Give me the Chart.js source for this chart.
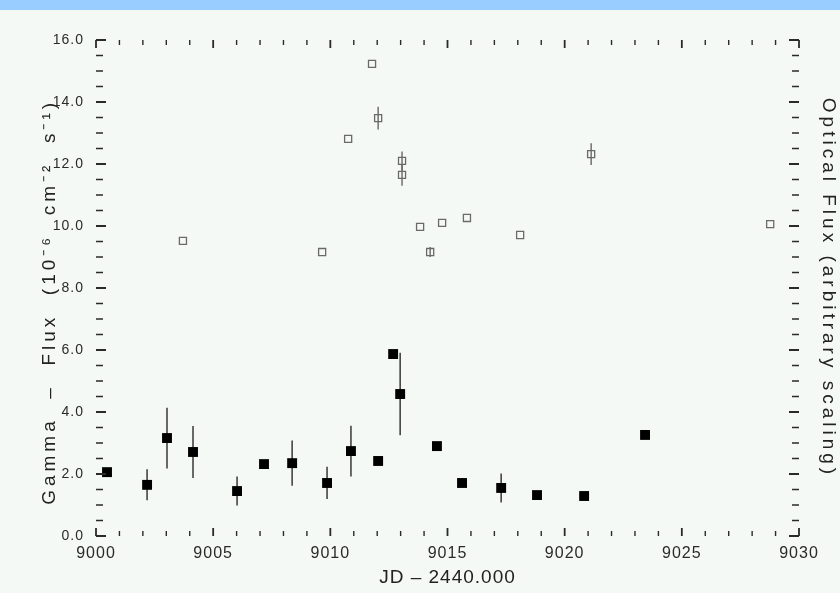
<!DOCTYPE html>
<html>
<head>
<meta charset="utf-8">
<script src="https://cdn.jsdelivr.net/npm/chart.js@4.4.1/dist/chart.umd.min.js"></script>
<style>
  html, body { margin: 0; padding: 0; background: #f5f9f6; }
  #band { position: absolute; left: 0; top: 0; width: 840px; height: 10px; background: #99ccff; }
  #wrap { position: absolute; left: 0; top: 0; width: 840px; height: 593px; }
</style>
</head>
<body>
<div id="band"></div>
<div id="wrap"><canvas id="c" width="840" height="593"></canvas></div>
<script>
// Gamma-ray flux (filled squares)
const gammaX   = [9000.47, 9002.18, 9003.03, 9004.14, 9006.02, 9007.17, 9008.37, 9009.86, 9010.88, 9012.04, 9012.68, 9012.98, 9014.55, 9015.62, 9017.29, 9018.82, 9020.83, 9023.43];
const gammaY   = [2.06, 1.65, 3.16, 2.71, 1.45, 2.32, 2.35, 1.71, 2.74, 2.42, 5.87, 4.58, 2.90, 1.71, 1.55, 1.32, 1.29, 3.26];
const gammaErr = [0, 0.50, 0.98, 0.84, 0.47, 0, 0.73, 0.52, 0.82, 0, 0, 1.33, 0, 0, 0.47, 0, 0, 0];

// Optical flux (open squares, arbitrary scaling)
const opticalX   = [9003.71, 9009.65, 9010.76, 9011.78, 9012.04, 9013.06, 9013.06, 9013.83, 9014.26, 9014.77, 9015.83, 9018.10, 9021.13, 9028.77];
const opticalY   = [9.52, 9.16, 12.81, 15.23, 13.48, 12.10, 11.65, 9.97, 9.16, 10.10, 10.26, 9.71, 12.32, 10.06];
const opticalErr = [0, 0, 0, 0, 0.37, 0.30, 0.35, 0, 0.16, 0, 0, 0, 0.35, 0];

// Axis settings
const xMin = 9000, xMax = 9030, xMajor = 5, xMinor = 1;
const yMin = 0, yMax = 16, yMajor = 2, yMinor = 0.5;

const FONT = "'Liberation Sans', Arial, sans-serif";

function zip(xs, ys) { return xs.map((x, i) => ({ x: x, y: ys[i] })); }

// letter spacing: wide for the vertical axis titles, small for tick labels / x title
const spacingPlugin = {
  id: 'spacing',
  beforeDraw(chart) { chart.ctx.letterSpacing = '4px'; },
  afterDatasetsDraw(chart) { chart.ctx.letterSpacing = '1px'; },
  afterDraw(chart) { chart.ctx.letterSpacing = '0px'; }
};

const errorBarPlugin = {
  id: 'errorBars',
  beforeDatasetsDraw(chart) {
    const ctx = chart.ctx;
    chart.data.datasets.forEach((ds, di) => {
      const meta = chart.getDatasetMeta(di);
      const yScale = chart.scales[meta.yAxisID];
      ctx.save();
      ctx.strokeStyle = ds.errColor;
      ctx.lineWidth = ds.errWidth;
      meta.data.forEach((pt, i) => {
        const e = ds.errors[i];
        if (!e) return;
        const v = ds.data[i].y;
        const yTop = yScale.getPixelForValue(v + e);
        const yBot = yScale.getPixelForValue(v - e);
        ctx.beginPath();
        ctx.moveTo(pt.x, yTop);
        ctx.lineTo(pt.x, yBot);
        ctx.stroke();
      });
      ctx.restore();
    });
  }
};

const tickPlugin = {
  id: 'inTicks',
  afterDraw(chart) {
    const ctx = chart.ctx;
    const a = chart.chartArea;
    const xs = chart.scales.x, ys = chart.scales.y;
    ctx.save();
    ctx.strokeStyle = '#2a2a2a';
    // x ticks: top & bottom, inward
    for (let v = xMin; v <= xMax + 1e-9; v += xMinor) {
      const px = xs.getPixelForValue(v);
      const major = Math.abs(v / xMajor - Math.round(v / xMajor)) < 1e-6;
      const len = major ? 8 : 5;
      ctx.lineWidth = major ? 1.8 : 1.4;
      ctx.beginPath();
      ctx.moveTo(px, a.bottom); ctx.lineTo(px, a.bottom - len);
      ctx.moveTo(px, a.top); ctx.lineTo(px, a.top + len);
      ctx.stroke();
    }
    // y ticks: left & right, inward
    for (let v = yMin; v <= yMax + 1e-9; v += yMinor) {
      const py = ys.getPixelForValue(v);
      const major = Math.abs(v / yMajor - Math.round(v / yMajor)) < 1e-6;
      const len = major ? 10 : 7;
      ctx.lineWidth = major ? 2 : 1.4;
      ctx.beginPath();
      ctx.moveTo(a.left, py); ctx.lineTo(a.left + len, py);
      ctx.moveTo(a.right, py); ctx.lineTo(a.right - len, py);
      ctx.stroke();
    }
    ctx.restore();
  }
};

new Chart(document.getElementById('c'), {
  type: 'scatter',
  data: {
    datasets: [
      {
        label: 'Gamma',
        data: zip(gammaX, gammaY),
        errors: gammaErr,
        errColor: '#444',
        errWidth: 1.6,
        yAxisID: 'y',
        pointStyle: 'rect',
        pointRadius: 7,
        pointHoverRadius: 7,
        backgroundColor: '#000',
        borderColor: '#000',
        borderWidth: 0
      },
      {
        label: 'Optical',
        data: zip(opticalX, opticalY),
        errors: opticalErr,
        errColor: '#666',
        errWidth: 1.4,
        yAxisID: 'y2',
        pointStyle: 'rect',
        pointRadius: 5,
        pointHoverRadius: 5,
        backgroundColor: 'rgba(0,0,0,0)',
        borderColor: '#6a6a6a',
        borderWidth: 1.3
      }
    ]
  },
  options: {
    responsive: false,
    animation: false,
    devicePixelRatio: 1,
    layout: { padding: { top: 40, left: 0, right: 0, bottom: 0 } },
    plugins: { legend: { display: false }, tooltip: { enabled: false } },
    scales: {
      x: {
        type: 'linear',
        min: xMin, max: xMax,
        grid: { display: false, drawTicks: false, z: 1 },
        border: { display: false },
        ticks: {
          z: 1,
          stepSize: xMajor,
          padding: 8,
          color: '#2a2a2a',
          font: { family: FONT, size: 16 },
          maxRotation: 0,
          callback: (v) => String(v)
        },
        title: {
          display: true,
          text: 'JD \u2013 2440.000',
          color: '#222',
          font: { family: FONT, size: 19 },
          padding: { top: 0, bottom: 4 }
        },
        afterFit: (s) => { s.height = 57; }
      },
      y: {
        type: 'linear',
        position: 'left',
        min: yMin, max: yMax,
        grid: { display: false, drawTicks: false },
        border: { display: false },
        ticks: {
          z: 1,
          stepSize: yMajor,
          padding: 12,
          color: '#2a2a2a',
          font: { family: FONT, size: 14 },
          callback: (v) => Number(v).toFixed(1)
        },
        title: {
          display: true,
          text: 'Gamma  \u2013  Flux  (10\u207B\u2076  cm\u207B\u00B2  s\u207B\u00B9)   ',
          color: '#222',
          font: { family: FONT, size: 19 },
          padding: { top: 38, bottom: 0 }
        },
        afterFit: (s) => { s.width = 96; }
      },
      y2: {
        type: 'linear',
        position: 'right',
        min: yMin, max: yMax,
        grid: { display: false, drawTicks: false },
        border: { display: false },
        ticks: { display: false },
        title: {
          display: true,
          text: 'Optical Flux (arbitrary scaling)',
          color: '#222',
          font: { family: FONT, size: 19 },
          padding: { top: 0, bottom: 0 }
        },
        afterFit: (s) => { s.width = 41; }
      }
    }
  },
  plugins: [spacingPlugin, errorBarPlugin, tickPlugin]
});
</script>
</body>
</html>
